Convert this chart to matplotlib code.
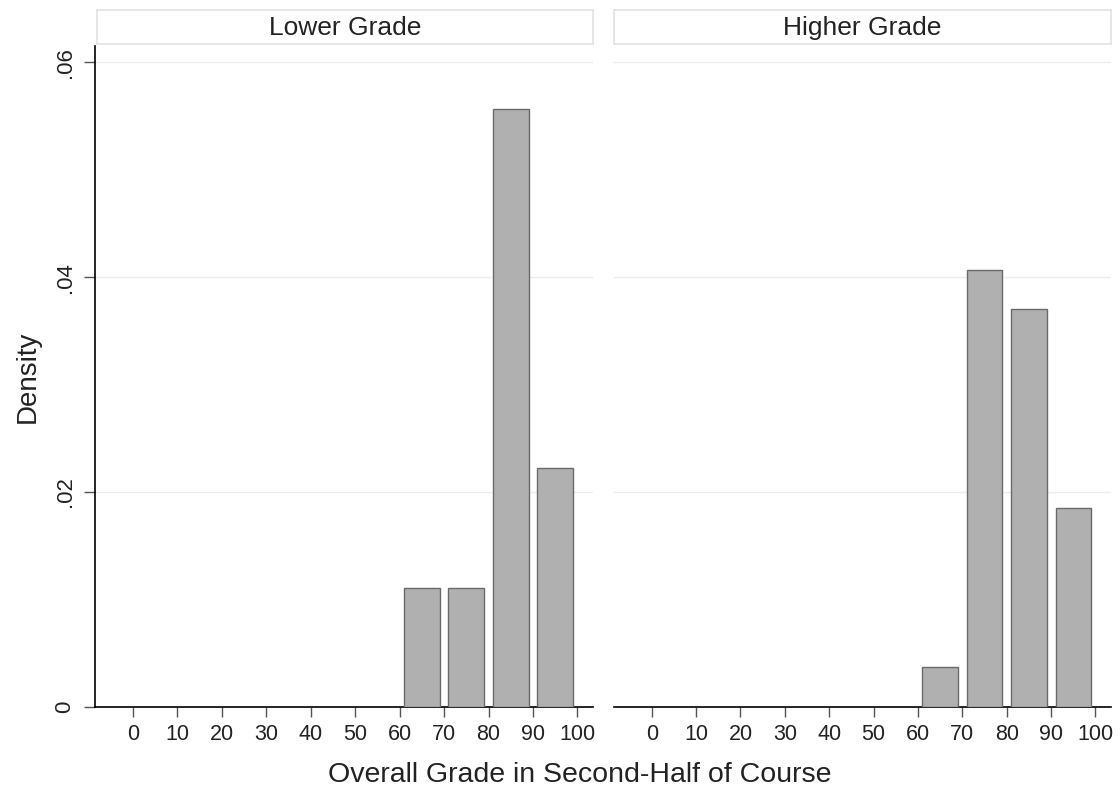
import numpy as np
import matplotlib
matplotlib.use('Agg')
import matplotlib.pyplot as plt

plt.rcParams['font.family'] = ['Liberation Sans', 'DejaVu Sans']

# histogram data: 10-point bins, density scale
bin_centers = [65, 75, 85, 95]
lower_density = [0.0111, 0.0111, 0.0556, 0.0222]
higher_density = [0.0037, 0.0407, 0.0370, 0.0185]
panel_titles = ['Lower Grade', 'Higher Grade']
x_ticks = [0, 10, 20, 30, 40, 50, 60, 70, 80, 90, 100]
y_ticks = [0, 0.02, 0.04, 0.06]
y_ticklabels = ['0', '.02', '.04', '.06']

W, H = 1120, 791
fig = plt.figure(figsize=(W / 100, H / 100), dpi=100)

def px_box(x0, y0, x1, y1):
    # pixel box (top-left origin) -> figure fraction rect
    return [x0 / W, 1 - y1 / H, (x1 - x0) / W, (y1 - y0) / H]

panels = [
    (px_box(95, 46, 593, 707), px_box(97, 10, 593, 44), lower_density),
    (px_box(614, 46, 1111, 707), px_box(614, 10, 1111, 44), higher_density),
]

bar_face = '#b0b0b0'
bar_edge = '#6a6a6a'
txt = '#222222'

for i, (rect, strip_rect, dens) in enumerate(panels):
    ax = fig.add_axes(rect)
    ax.bar(bin_centers, dens, width=8, color=bar_face, edgecolor=bar_edge,
           linewidth=1.0, zorder=3)
    ax.set_xlim(-8.5, 103.5)
    ax.set_ylim(0, 0.0615)
    ax.set_yticks(y_ticks)
    for y in y_ticks[1:]:
        ax.axhline(y, color='#ececec', lw=1.0, zorder=1)
    ax.set_xticks(x_ticks)
    ax.set_xticklabels([str(t) for t in x_ticks], fontsize=15.5, color=txt)
    ax.tick_params(axis='x', length=7, width=1, color='#555555', pad=5)
    for s in ['top', 'right']:
        ax.spines[s].set_visible(False)
    ax.spines['bottom'].set_linewidth(1.2)
    if i == 0:
        ax.spines['left'].set_linewidth(1.2)
        ax.set_yticklabels(y_ticklabels, fontsize=16, color=txt,
                           rotation=90, va='center')
        ax.tick_params(axis='y', length=8, width=1, color='#555555', pad=6)
        ax.set_ylabel('Density', fontsize=20, color=txt, labelpad=10)
    else:
        ax.spines['left'].set_visible(False)
        ax.tick_params(axis='y', left=False, labelleft=False)

    # panel header strip
    sax = fig.add_axes(strip_rect)
    sax.set_xticks([])
    sax.set_yticks([])
    for s in sax.spines.values():
        s.set_color('#e2e2e2')
        s.set_linewidth(1.2)
    sax.text(0.5, 0.48, panel_titles[i], ha='center', va='center',
             fontsize=19, color=txt, transform=sax.transAxes)

fig.text(580 / W, 1 - 775 / H, 'Overall Grade in Second-Half of Course',
         ha='center', va='center', fontsize=20.5, color=txt)

fig.savefig('out.png', dpi=100, facecolor='white')
